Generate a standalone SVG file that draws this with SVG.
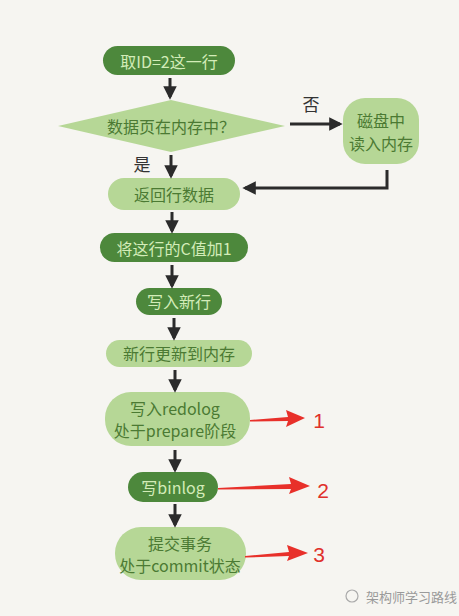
<svg xmlns="http://www.w3.org/2000/svg" width="459" height="616" viewBox="0 0 459 616">
<defs>
<style>
.dark{fill:#4d883c}
.light{fill:#b6d796}
.td{fill:#d3ecb8;font-family:"Noto Sans CJK SC","Noto Sans",sans-serif;font-size:16px;text-anchor:middle;dominant-baseline:central}
.tl{fill:#4b7a33;font-family:"Noto Sans CJK SC","Noto Sans",sans-serif;font-size:16px;text-anchor:middle;dominant-baseline:central}
.lab{fill:#333;font-family:"Noto Sans CJK SC",sans-serif;font-size:17px;text-anchor:middle;dominant-baseline:central}
.num{fill:#e0302a;font-family:"Liberation Sans",sans-serif;font-size:21px;text-anchor:middle;dominant-baseline:central}
.ln{stroke:#2b2b2b;stroke-width:3;fill:none}
.red{fill:#e8302a}
</style>
<marker id="ah" viewBox="0 0 10 10" refX="8" refY="5" markerWidth="4.5" markerHeight="4.5" orient="auto" markerUnits="strokeWidth">
<path d="M0,0 L10,5 L0,10 z" fill="#2b2b2b"/>
</marker>
</defs>
<rect width="459" height="616" fill="#f6f5f1"/>

<g id="n1"><rect class="dark" x="103" y="46" width="132" height="29" rx="14.5"/><text class="td" x="169" y="61">取ID=2这一行</text></g>
<g id="n2"><polygon class="light" points="58,126 171,100 285,126 171,152"/><text class="tl" x="171" y="126">数据页在内存中？</text></g>
<g id="n3"><rect class="light" x="343" y="98" width="76" height="66" rx="22"/><text class="tl" x="381" y="120">磁盘中</text><text class="tl" x="381" y="143">读入内存</text></g>
<g id="n4"><rect class="light" x="108" y="178" width="132" height="32" rx="16"/><text class="tl" x="174" y="194">返回行数据</text></g>
<g id="n5"><rect class="dark" x="100" y="233" width="148" height="29" rx="14.5"/><text class="td" x="174" y="248">将这行的C值加1</text></g>
<g id="n6"><rect class="dark" x="136" y="288" width="86" height="27" rx="13.5"/><text class="td" x="179" y="301">写入新行</text></g>
<g id="n7"><rect class="light" x="106" y="340" width="146" height="27" rx="13.5"/><text class="tl" x="179" y="353">新行更新到内存</text></g>
<g id="n8"><rect class="light" x="105" y="392" width="145" height="54" rx="26"/><text class="tl" x="175" y="408">写入redolog</text><text class="tl" x="175" y="430">处于prepare阶段</text></g>
<g id="n9"><rect class="dark" x="128" y="472" width="90" height="30" rx="15"/><text class="td" x="173" y="487">写binlog</text></g>
<g id="n10"><rect class="light" x="115" y="527" width="131" height="53" rx="26"/><text class="tl" x="180" y="543">提交事务</text><text class="tl" x="180" y="565">处于commit状态</text></g>

<g id="connectors">
<line class="ln" x1="170" y1="78" x2="170" y2="97" marker-end="url(#ah)"/>
<line class="ln" x1="290" y1="124" x2="340" y2="124" marker-end="url(#ah)"/>
<text class="lab" x="311" y="103">否</text>
<line class="ln" x1="171" y1="155" x2="171" y2="176" marker-end="url(#ah)"/>
<text class="lab" x="142" y="163">是</text>
<polyline class="ln" points="387,170 387,188 245,188" marker-end="url(#ah)"/>
<line class="ln" x1="172" y1="212" x2="172" y2="231" marker-end="url(#ah)"/>
<line class="ln" x1="172" y1="265" x2="172" y2="286" marker-end="url(#ah)"/>
<line class="ln" x1="174" y1="318" x2="174" y2="338" marker-end="url(#ah)"/>
<line class="ln" x1="175" y1="370" x2="175" y2="390" marker-end="url(#ah)"/>
<line class="ln" x1="175" y1="450" x2="175" y2="470" marker-end="url(#ah)"/>
<line class="ln" x1="175" y1="504" x2="175" y2="525" marker-end="url(#ah)"/>
<polygon class="red" points="250,420 288,417 286,410 305,418 286,427 288,421 250,421.5"/>
<text class="num" x="319" y="420">1</text>
<polygon class="red" points="218,488 291,484 289,477 310,486 289,494 291,489 218,489.5"/>
<text class="num" x="323" y="490">2</text>
<polygon class="red" points="245,556 289,552 287,545 308,553 287,561 289,556 245,557.5"/>
<text class="num" x="319" y="554">3</text>
</g>

<g id="watermark">
<circle cx="352" cy="596" r="6" fill="none" stroke="#aaa" stroke-width="1.2"/>
<text x="366" y="596" fill="#9a9a9a" font-family="Noto Sans CJK SC,sans-serif" font-size="13" dominant-baseline="central">架构师学习路线</text>
</g>
</svg>
